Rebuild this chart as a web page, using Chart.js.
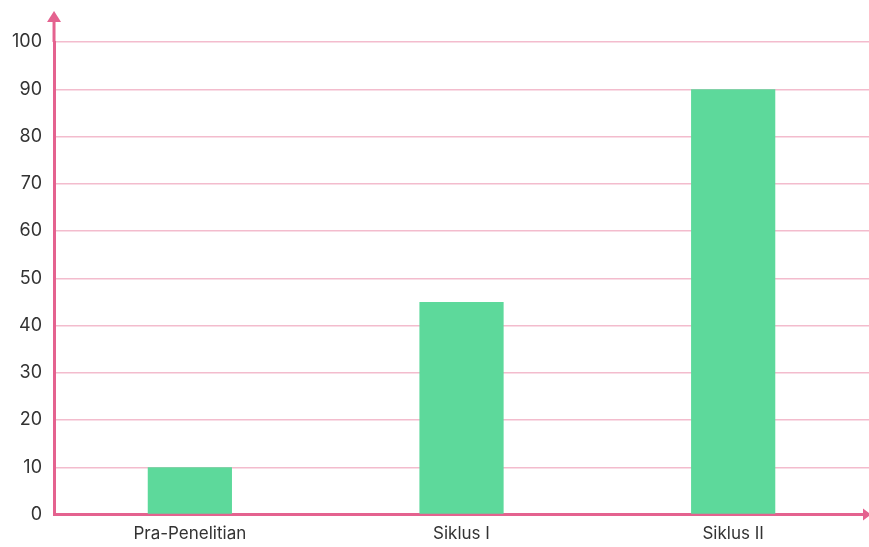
<!DOCTYPE html>
<html>
<head>
<meta charset="utf-8">
<script src="https://cdn.jsdelivr.net/npm/chart.js@4/dist/chart.umd.min.js"></script>
<style>
  html, body { margin: 0; padding: 0; background: #fff; }
  #wrap { width: 869px; height: 547px; }
</style>
</head>
<body>
<div id="wrap"><canvas id="myChart"></canvas></div>
<script>
// Data
const categories = ["Pra-Penelitian", "Siklus I", "Siklus II"];
const nilai = [10, 45, 90];
const yTicks = [0, 10, 20, 30, 40, 50, 60, 70, 80, 90, 100];

const axisPink = "#e4628f";
const gridPink = "#f3bccd";

// arrow heads on the axes
const arrowPlugin = {
  id: "arrows",
  afterDraw(chart) {
    const { ctx, chartArea } = chart;
    const x0 = chartArea.left, y0 = chartArea.bottom;
    ctx.save();
    ctx.strokeStyle = axisPink;
    ctx.fillStyle = axisPink;
    ctx.lineWidth = 3;
    ctx.beginPath();
    ctx.moveTo(x0, chartArea.top);
    ctx.lineTo(x0, 20);
    ctx.stroke();
    ctx.beginPath();
    ctx.moveTo(x0, 11);
    ctx.lineTo(x0 - 7, 22);
    ctx.lineTo(x0 + 7, 22);
    ctx.closePath();
    ctx.fill();
    ctx.beginPath();
    ctx.moveTo(chart.width + 2, y0);
    ctx.lineTo(chart.width - 6, y0 - 6);
    ctx.lineTo(chart.width - 6, y0 + 6);
    ctx.closePath();
    ctx.fill();
    ctx.restore();
  }
};

const config = {
  type: "bar",
  data: {
    labels: categories,
    datasets: [
      {
        data: nilai,
        backgroundColor: "#5dd99b",
        categoryPercentage: 1,
        barPercentage: 0.31
      }
    ]
  },
  options: {
    responsive: true,
    maintainAspectRatio: false,
    animation: false,
    layout: { padding: { top: 42, right: 0, left: 0, bottom: 2 } },
    plugins: {
      legend: { display: false },
      tooltip: { enabled: false }
    },
    scales: {
      x: {
        grid: { display: false },
        border: { color: axisPink, width: 3 },
        ticks: {
          color: "#333",
          font: { family: "Inter", size: 17 },
          padding: 1
        }
      },
      y: {
        min: 0,
        max: 100,
        afterBuildTicks: (scale) => { scale.ticks = yTicks.map(v => ({ value: v })); },
        grid: { color: gridPink, lineWidth: 1.5, drawTicks: false },
        border: { color: axisPink, width: 3 },
        ticks: {
          color: "#333",
          font: { family: "Inter", size: 18 },
          padding: 12
        }
      }
    }
  },
  plugins: [arrowPlugin]
};

const ctx = document.getElementById("myChart").getContext("2d");
const myChart = new Chart(ctx, config);
</script>
</body>
</html>
